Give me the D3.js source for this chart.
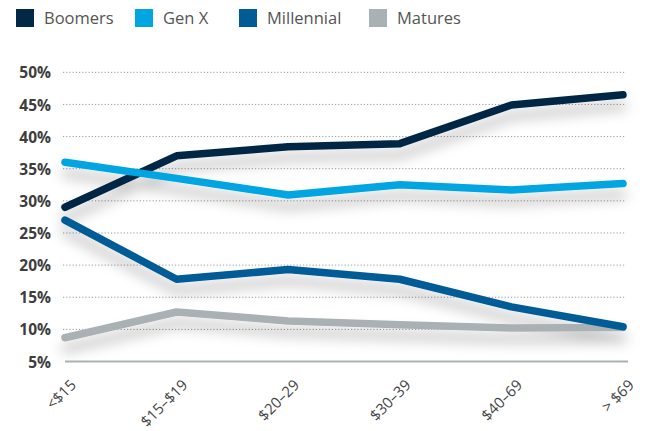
<!DOCTYPE html>
<html><head><meta charset="utf-8">
<script src="https://cdn.jsdelivr.net/npm/d3@7"></script>
<style>
html,body{margin:0;padding:0;background:#fff;}
svg{display:block;font-family:"Open Sans","Noto Sans",sans-serif;}
</style></head>
<body><svg id="c" width="646" height="431"></svg>
<script>
const categories = ["<$15", "$15\u2013$19", "$20\u201329", "$30\u201339", "$40\u201369", "> $69"];
const boomers    = [29.0, 37.0, 38.4, 38.9, 44.9, 46.5];
const genX       = [36.0, 33.5, 30.9, 32.5, 31.7, 32.7];
const millennial = [27.0, 17.8, 19.3, 17.8, 13.5, 10.4];
const matures    = [8.7, 12.7, 11.3, 10.7, 10.2, 10.3];
const yTicks = [5, 10, 15, 20, 25, 30, 35, 40, 45, 50];
const seriesNames = ["Boomers", "Gen X", "Millennial", "Matures"];
const seriesColors = ["#022845", "#00a5e1", "#005b97", "#aab1b4"];

const series = [
  {name: "Boomers", values: boomers, color: seriesColors[0]},
  {name: "Gen X", values: genX, color: seriesColors[1]},
  {name: "Millennial", values: millennial, color: seriesColors[2]},
  {name: "Matures", values: matures, color: seriesColors[3]}
];
const drawOrder = ["Matures", "Boomers", "Millennial", "Gen X"];

const svg = d3.select("#c");
const x = d3.scalePoint().domain(categories).range([65, 623]);
const y = d3.scaleLinear().domain([5, 50]).range([361.5, 72.3]);

const defs = svg.append("defs");
const f = defs.append("filter").attr("id", "sh").attr("x", "-20%").attr("y", "-50%").attr("width", "140%").attr("height", "220%");
f.append("feDropShadow").attr("dx", 0).attr("dy", 11).attr("stdDeviation", 6.5)
  .attr("flood-color", "#000").attr("flood-opacity", 0.25);

// legend
const leg = svg.append("g");
const legX = [16, 135, 239, 369];
seriesNames.forEach((n, i) => {
  leg.append("rect").attr("x", legX[i]).attr("y", 9).attr("width", 18).attr("height", 18).attr("fill", seriesColors[i]);
  leg.append("text").attr("x", legX[i] + 28).attr("y", 24).attr("font-size", 16.5)
    .attr("fill", "#555").text(n);
});

// gridlines
const grid = svg.append("g");
yTicks.filter(t => t > 5).forEach(t => {
  grid.append("line").attr("x1", 63).attr("x2", 625).attr("y1", y(t)).attr("y2", y(t))
    .attr("stroke", "#9a9a9a").attr("stroke-width", 1).attr("stroke-dasharray", "1.2,2");
});

// y axis labels
const yAxis = d3.axisLeft(y).tickValues(yTicks).tickSize(0).tickPadding(0).tickFormat(d => d + "%");
const ya = svg.append("g").attr("transform", "translate(51,0)").call(yAxis);
ya.select(".domain").remove();
ya.selectAll("text").attr("font-size", 15.5).attr("font-weight", "bold").attr("fill", "#3d3d3d")
  .attr("font-family", "'Open Sans','Noto Sans',sans-serif").attr("dy", "0.36em");

// lines
const line = d3.line().x((d, i) => x(categories[i])).y(d => y(d));
const lg = svg.append("g").attr("filter", "url(#sh)");
drawOrder.forEach(n => {
  const s = series.find(s => s.name === n);
  lg.append("path").attr("d", line(s.values)).attr("fill", "none").attr("stroke", s.color)
    .attr("stroke-width", 7.5).attr("stroke-linecap", "round").attr("stroke-linejoin", "round");
});

// baseline
svg.append("line").attr("x1", 65).attr("x2", 628).attr("y1", y(5)).attr("y2", y(5))
  .attr("stroke", "#a9b1b4").attr("stroke-width", 2);

// x axis
const xAxis = d3.axisBottom(x).tickSize(0).tickPadding(0);
const xa = svg.append("g").call(xAxis);
xa.select(".domain").remove();
xa.selectAll(".tick").attr("transform", d => `translate(${x(d) + 12},386)`);
xa.selectAll("text").attr("y", 0).attr("dy", 0).attr("x", 0)
  .attr("text-anchor", "end").attr("transform", "rotate(-45)")
  .attr("font-size", 15).attr("fill", "#444").attr("font-family", "'Open Sans','Noto Sans',sans-serif");
</script></body></html>
